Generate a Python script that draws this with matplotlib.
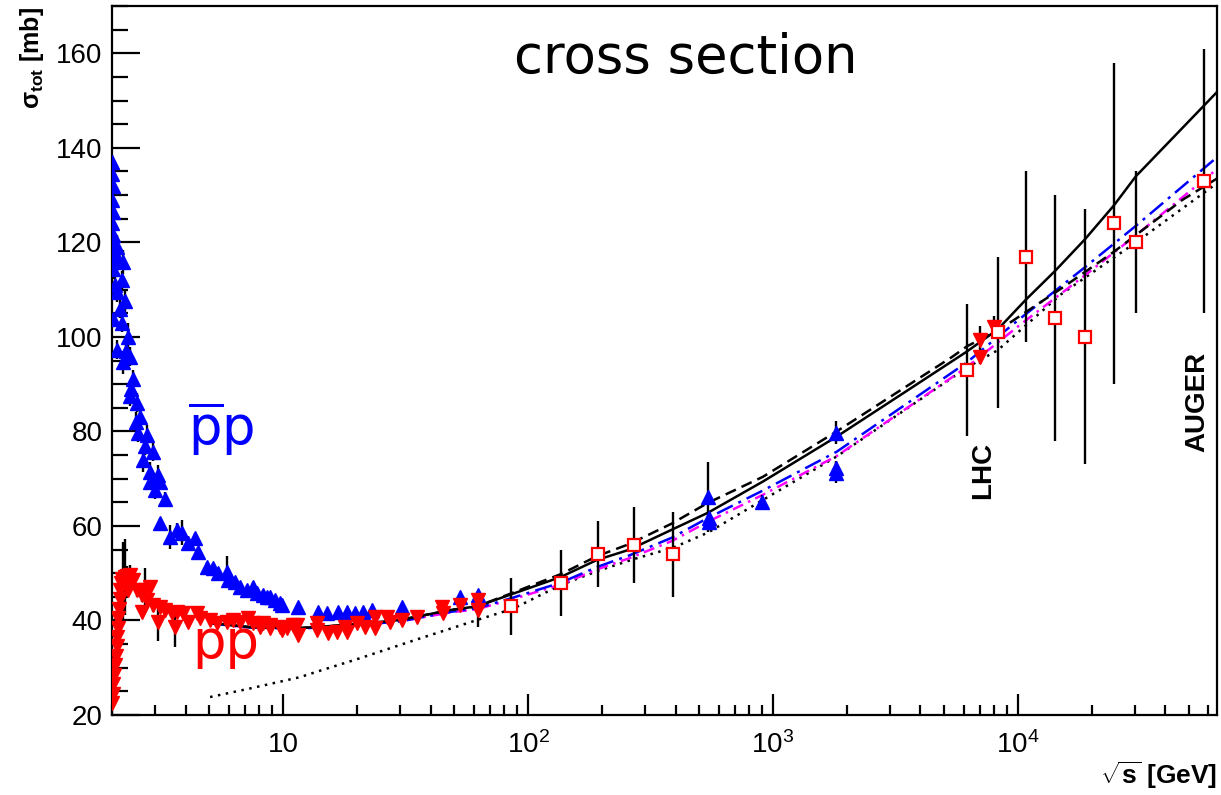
import matplotlib
matplotlib.use("Agg")
import matplotlib.pyplot as plt
from matplotlib.ticker import FixedLocator, FixedFormatter, MultipleLocator

plt.rcParams['font.family'] = ['Liberation Sans', 'DejaVu Sans']
plt.rcParams['mathtext.fontset'] = 'custom'
plt.rcParams['mathtext.rm'] = 'Liberation Sans'
plt.rcParams['mathtext.it'] = 'Liberation Sans:italic'
plt.rcParams['mathtext.bf'] = 'Liberation Sans:bold'
plt.rcParams['mathtext.sf'] = 'DejaVu Sans'

# ---------------- data ----------------
# pbar-p accelerator data (sqrt s [GeV], sigma [mb], error)
pbarp_x = [2.00, 2.00, 2.01, 2.00, 2.01, 2.00, 2.02, 2.03, 2.10, 2.05, 2.12, 2.22, 2.02, 2.20, 2.06,
           2.10, 2.26, 2.15, 2.02, 2.20, 2.33, 2.10, 2.28, 2.22, 2.37, 2.44, 2.40, 2.37, 2.54, 2.61,
           2.50, 2.56, 2.79, 2.72, 2.68, 2.95, 2.86, 3.09, 2.86, 3.15, 3.00, 3.30, 3.15, 3.46, 3.70,
           3.87, 4.10, 4.37, 4.50, 4.90, 5.18, 5.43, 5.91, 5.97, 6.37, 6.67, 7.13, 7.55, 7.83, 8.28,
           8.61, 8.85, 9.27, 9.72, 9.91, 11.5, 13.9, 15.1, 16.8, 18.2, 19.7, 21.2, 23.1, 30.6, 52.7,
           62.5, 543, 546, 546, 900, 1800, 1800, 1800]
pbarp_y = [137.0, 134.5, 132.0, 129.0, 126.5, 124.0, 121.5, 119.5, 119.0, 117.0, 116.4, 115.8, 114.3, 112.0, 111.0,
           109.4, 107.5, 106.0, 103.7, 103.0, 99.9, 97.3, 97.0, 94.6, 95.8, 91.0, 89.0, 87.4, 86.1, 83.1,
           82.0, 79.7, 79.3, 77.0, 74.0, 75.7, 71.5, 70.8, 69.4, 69.2, 67.7, 65.6, 60.7, 57.7, 59.2,
           58.6, 56.4, 57.5, 54.5, 51.4, 51.1, 50.1, 50.3, 48.6, 48.2, 47.1, 46.5, 47.1, 45.8, 45.4,
           45.0, 45.0, 44.4, 43.7, 43.3, 42.9, 41.8, 41.6, 41.8, 41.8, 41.6, 41.8, 42.2, 42.9, 45.0,
           45.4, 66.2, 61.7, 60.9, 65.1, 79.7, 72.3, 71.3]
pbarp_err = [1.5, 1.5, 1.5, 1.5, 1.5, 2, 2, 2, 2.5, 2, 2, 2.5, 2, 2, 2,
             2, 2.5, 2, 1.5, 2, 3, 2, 2, 2.5, 2, 2, 2, 2, 2, 2.5,
             2, 2, 2, 2, 2.5, 2, 2, 2, 1.5, 1.5, 2, 1.5, 1, 2.5, 1.5,
             2.7, 1.5, 1, 1, 1, 1, 1, 3.3, 1, 1, 1, 1, 1, 1, 1,
             1, 1, 1, 1, 1, 0.5, 0.5, 0.5, 0.5, 0.5, 0.5, 1, 0.5, 0.5, 0.5,
             0.5, 7.4, 1.5, 1.2, 1.5, 2.4, 1.5, 2.3]

# p-p accelerator data
pp_x = [2.00, 2.01, 2.02, 2.04, 2.06, 2.07, 2.09, 2.10, 2.11, 2.12, 2.13, 2.15, 2.16, 2.18, 2.20,
        2.22, 2.26, 2.30, 2.37, 2.33, 2.44, 2.33, 2.54, 2.66, 2.72, 2.86, 2.79, 2.95, 2.66, 3.15,
        3.30, 3.09, 3.52, 3.69, 3.62, 3.91, 4.10, 4.46, 4.58, 5.03, 5.38, 5.91, 6.25, 6.67, 7.19,
        7.55, 8.06, 8.28, 8.85, 8.85, 9.72, 9.91, 10.4, 11.0, 11.4, 11.5, 13.8, 13.8, 15.3, 16.6,
        17.9, 18.2, 20.0, 21.6, 23.7, 23.7, 26.6, 27.3, 30.6, 35.2, 44.6, 45.0, 52.7, 62.5, 62.5,
        7000, 7000, 8000]
pp_y = [22.5, 24.5, 26.5, 28.5, 30.5, 32.5, 34.5, 36.5, 38.5, 40.5, 42.5, 44.5, 46.5, 48.0, 48.8,
        48.2, 49.2, 49.5, 49.7, 48.2, 48.6, 46.5, 46.5, 45.4, 46.5, 47.1, 44.4, 43.3, 41.8, 42.9,
        42.2, 39.7, 41.6, 41.8, 38.6, 41.6, 39.7, 41.6, 40.6, 40.1, 39.5, 39.7, 40.1, 39.7, 40.6,
        39.5, 38.6, 39.5, 38.4, 39.1, 38.6, 38.0, 38.4, 39.1, 39.1, 36.9, 39.5, 38.0, 37.4, 37.6,
        38.6, 37.6, 39.5, 38.6, 38.4, 40.8, 40.8, 39.7, 40.1, 40.8, 42.9, 41.6, 43.3, 44.4, 42.2,
        99.4, 95.8, 102.0]
pp_err = [0.5, 0.5, 0.5, 0.5, 0.5, 1, 1, 1, 1, 1, 1, 1, 1.5, 1.5, 2,
          8.5, 8, 2, 2, 1.5, 1.5, 1.5, 1.5, 1.5, 4.6, 1, 1.5, 1.5, 1, 1,
          1, 4, 1, 1, 4.3, 1, 1, 1, 1, 0.5, 0.5, 0.5, 0.5, 0.5, 0.5,
          0.5, 0.5, 0.5, 0.5, 0.5, 0.5, 0.5, 0.5, 0.5, 0.5, 0.5, 0.5, 0.5, 0.5, 0.5,
          0.5, 0.5, 0.5, 0.5, 0.5, 0.5, 0.5, 0.5, 0.5, 0.5, 0.5, 0.5, 0.5, 0.5, 3.5,
          3, 1.5, 2.5]

# cosmic-ray derived p-p data (open squares)
cr_x = [85, 136, 193, 271, 391, 6190, 8280, 10790, 14150, 18750, 24650, 30340, 57400]
cr_y = [43, 48, 54, 56, 54, 93, 101, 117, 104, 100, 124, 120, 133]
cr_err = [6, 7, 7, 8, 9, 14, 16, 18, 26, 27, 34, 15, 28]

# model curves
solid_x = [5, 7.3, 11.7, 18.8, 30, 48, 62, 84, 136, 191, 260, 386, 543, 910, 1820, 3500, 6190,
           8280, 10790, 14150, 18750, 24650, 30340, 45000, 65000]
solid_y = [39.5, 38.6, 38.4, 39.1, 40.1, 42.2, 43.0, 45.4, 49.2, 52.8, 55.0, 59.2, 62.8, 69.4, 78.9,
           88.5, 96.9, 101.6, 107.9, 113.9, 120.6, 127.8, 134.0, 143.2, 151.8]

dashed_x = [5, 7.3, 11.7, 18.8, 30, 48, 62, 84, 136, 191, 260, 386, 543, 910, 1820, 3500, 5400,
            6190, 8280, 15500, 24500, 47000, 65000]
dashed_y = [39.5, 38.6, 38.4, 39.1, 40.1, 42.2, 43.0, 45.6, 49.8, 53.6, 56.2, 60.5, 64.9, 70.4, 80.0,
            89.5, 95.8, 98.0, 101.3, 110.7, 117.9, 129.0, 133.5]

dashdot_x = [5, 7.3, 11.7, 18.8, 30, 48, 62, 84, 136, 191, 260, 386, 543, 910, 1820, 6190, 10000,
             18750, 30340, 65000]
blue_y = [39.4, 38.5, 38.3, 38.9, 39.8, 41.8, 42.6, 44.6, 48.0, 51.3, 53.8, 57.5, 61.7, 67.5, 75.7,
          94.6, 103.5, 114.7, 123.5, 138.0]
magenta_y = [39.4, 38.5, 38.3, 38.9, 39.8, 41.7, 42.4, 44.3, 47.6, 50.8, 53.2, 56.8, 60.9, 66.6, 74.8,
             93.6, 102.2, 113.0, 121.5, 135.5]

dotted_x = [5.03, 7.3, 11.7, 13.8, 20, 35.2, 63.7, 87, 136, 193, 271, 391, 543, 910, 1820, 6190,
            8280, 15000, 30340, 65000]
dotted_y = [23.8, 25.6, 28.0, 29.2, 31.8, 36.0, 40.3, 42.5, 47.5, 50.5, 53.0, 55.4, 58.6, 65.5, 74.7,
            93.5, 97.2, 109.0, 120.0, 132.5]

xtick_vals = [10, 100, 1000, 10000]
xtick_labels = ['10', r'$10^{2}$', r'$10^{3}$', r'$10^{4}$']
ytick_vals = [20, 40, 60, 80, 100, 120, 140, 160]

# ---------------- figure ----------------
fig = plt.figure(figsize=(12.21, 7.95), dpi=100)
ax = fig.add_axes([112 / 1221, 80 / 795, (1217 - 112) / 1221, (715 - 6) / 795])
ax.set_xscale('log')
ax.set_xlim(2.0, 65000)
ax.set_ylim(20, 170)

lw = 1.8
ax.plot(dotted_x, dotted_y, color='black', lw=lw, ls=(0, (1, 2.2)), zorder=2)
ax.plot(dashdot_x, magenta_y, color='#ff00ff', lw=lw, ls=(0, (4.5, 2.2, 1, 2.2)), zorder=2)
ax.plot(dashdot_x, blue_y, color='#0000ff', lw=lw, ls=(0, (7, 2.5, 1.2, 2.5)), zorder=2)
ax.plot(dashed_x, dashed_y, color='black', lw=lw, ls=(0, (4.5, 2.5)), zorder=2)
ax.plot(solid_x, solid_y, color='black', lw=lw, zorder=2)

ekw = dict(fmt='none', ecolor='black', elinewidth=1.7, capsize=0, zorder=3)
ax.errorbar(pbarp_x, pbarp_y, yerr=pbarp_err, **ekw)
ax.errorbar(pp_x, pp_y, yerr=pp_err, **ekw)
ax.errorbar(cr_x, cr_y, yerr=cr_err, **ekw)

ax.plot(pbarp_x, pbarp_y, ls='none', marker='^', ms=9.5, color='#0000ff', mec='#0000ff', zorder=4)
ax.plot(pp_x, pp_y, ls='none', marker='v', ms=9.5, color='#ff0000', mec='#ff0000', zorder=5)
ax.plot(cr_x, cr_y, ls='none', marker='s', ms=9, mfc='white', mec='#ff0000', mew=1.6, zorder=6)

# axes styling
for s in ax.spines.values():
    s.set_linewidth(1.6)
ax.xaxis.set_major_locator(FixedLocator(xtick_vals))
ax.xaxis.set_major_formatter(FixedFormatter(xtick_labels))
ax.yaxis.set_major_locator(FixedLocator(ytick_vals))
ax.yaxis.set_minor_locator(MultipleLocator(5))
ax.tick_params(axis='both', which='both', direction='in', top=False, right=False, width=1.6)
ax.tick_params(axis='x', which='major', length=15, pad=12, labelsize=20)
ax.tick_params(axis='x', which='minor', length=7.5)
ax.tick_params(axis='y', which='major', length=20, pad=7, labelsize=20)
ax.tick_params(axis='y', which='minor', length=11.5)

# texts
fig.text(686 / 1221, 1 - 73 / 795, 'cross section', ha='center', va='baseline',
         fontsize=38, family='DejaVu Sans')
ax.text(4.09, 77.2, r'$\overline{\mathsf{p}}\mathsf{p}$', color='#0000ff', fontsize=38,
        ha='left', va='baseline')
ax.text(4.25, 32.1, 'pp', color='#ff0000', fontsize=38, family='DejaVu Sans',
        ha='left', va='baseline')
ax.text(7200, 71.7, 'LHC', rotation=90, ha='center', va='center', fontsize=20, fontweight='bold')
ax.text(53800, 86.3, 'AUGER', rotation=90, ha='center', va='center', fontsize=20, fontweight='bold')

fig.text(32 / 1221, 1 - 7 / 795, '\u03c3$_{\\mathbf{tot}}$ [mb]', rotation=90, ha='center', va='top',
         fontsize=18, fontweight='bold')
fig.text(1217 / 1221, 1 - 775 / 795, r'$\sqrt{\mathbf{s}}$ [GeV]', ha='right', va='center',
         fontsize=19, fontweight='bold')

fig.savefig('out.png', dpi=100)
